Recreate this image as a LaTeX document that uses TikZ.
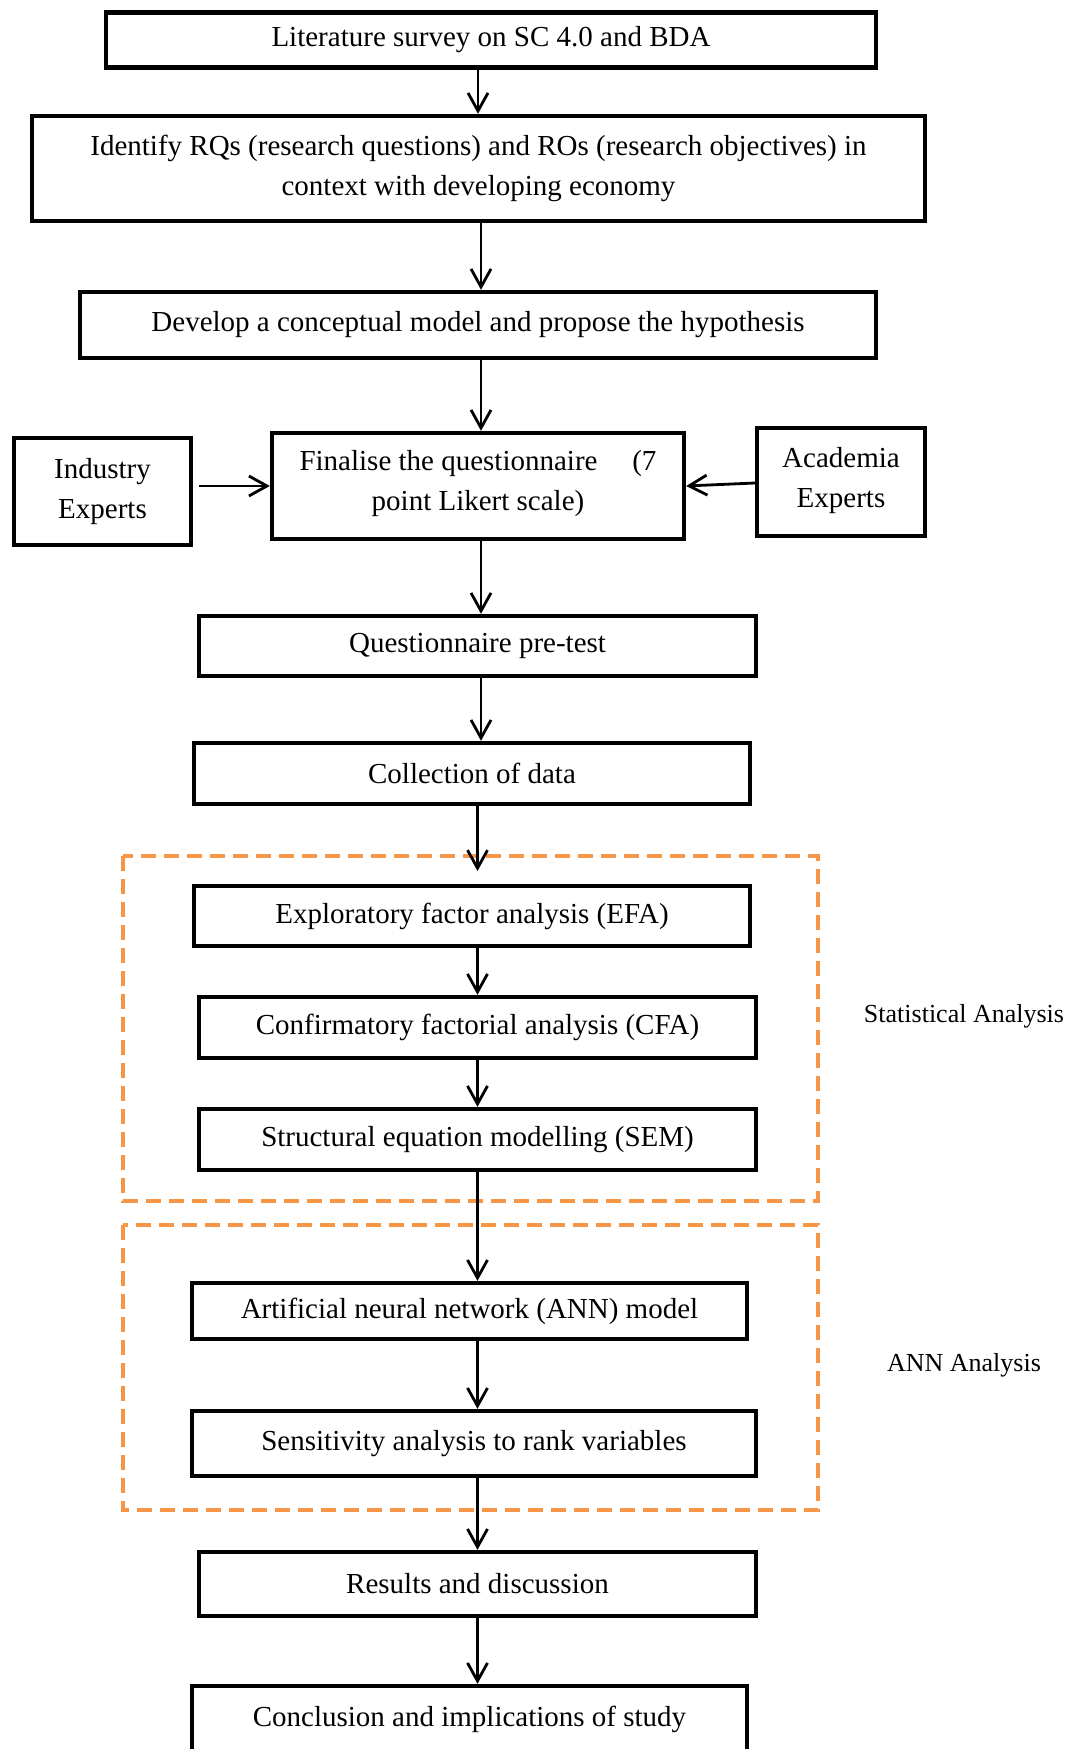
\documentclass[tikz,border=0pt]{standalone}
\usepackage{fontspec}
\setmainfont{Liberation Serif}
\usetikzlibrary{arrows.meta}
\definecolor{orng}{HTML}{F79646}
\begin{document}
\begin{tikzpicture}[x=0.5pt,y=-0.5pt,
  box/.style={draw=black, line width=2.2pt, rectangle, inner sep=0pt, align=center,
    font=\fontsize{14.5}{20}\selectfont},
  arr/.style={line width=1.4pt, -{Straight Barb[length=9pt,width=10pt,line width=1.4pt]}},
  grp/.style={draw=orng, line width=1.7pt, dash pattern=on 7.5pt off 4pt},
  lbl/.style={font=\fontsize{13}{16}\selectfont, inner sep=0pt}]
\clip (0,0) rectangle (1079,1749);
\fill[white] (0,0) rectangle (1079,1749);
% groups
\draw[grp] (123,856) rectangle (818,1201);
\draw[grp] (123,1225) rectangle (818,1510);
% nodes (sizes in pt = half the pixel size)
\node[box, minimum width=385pt, minimum height=27.5pt] (b1) at (491,40) {Literature survey on SC 4.0 and BDA};
\node[box, minimum width=446.5pt, minimum height=52.5pt] (b2) at (478.5,168.5) {Identify RQs (research questions) and ROs (research objectives) in\\context with developing economy};
\node[box, minimum width=398pt, minimum height=33pt] (b3) at (478,325) {Develop a conceptual model and propose the hypothesis};
\node[box, minimum width=88.5pt, minimum height=53.5pt] (ind) at (102.5,491.5) {Industry\\Experts\\[-17pt]};
\node[box, minimum width=206pt, minimum height=53pt] (fin) at (478,486) {Finalise the questionnaire\hspace{1.2em}(7\\point Likert scale)\\[-14pt]};
\node[box, minimum width=84pt, minimum height=54pt] (aca) at (841,482) {Academia\\Experts\\[-15.5pt]};
\node[box, minimum width=278.5pt, minimum height=30pt] (pre) at (477.5,646) {Questionnaire pre-test};
\node[box, minimum width=278pt, minimum height=30.5pt] (col) at (472,773.5) {Collection of data};
\node[box, minimum width=278pt, minimum height=30pt] (efa) at (472,916) {Exploratory factor analysis (EFA)};
\node[box, minimum width=278.5pt, minimum height=30.5pt] (cfa) at (477.5,1027.5) {Confirmatory factorial analysis (CFA)};
\node[box, minimum width=278.5pt, minimum height=30.5pt] (sem) at (477.5,1139.5) {Structural equation modelling (SEM)};
\node[box, minimum width=277.5pt, minimum height=28pt] (ann) at (469.5,1311) {Artificial neural network (ANN) model};
\node[box, minimum width=282pt, minimum height=32.5pt] (sen) at (474,1443.5) {Sensitivity analysis to rank variables};
\node[box, minimum width=278.5pt, minimum height=32pt] (res) at (477.5,1584) {Results and discussion};
\node[box, minimum width=277.5pt, minimum height=35pt] (con) at (469.5,1721) {Conclusion and implications of study\\[-15.5pt]};
% labels
\node[lbl] (lstat) at (964,1016) {Statistical Analysis};
\node[lbl] (lann) at (964,1365) {ANN Analysis};
% arrow columns
\coordinate (ax1) at (478,0);
\coordinate (ax2) at (481,0);
\coordinate (ax3) at (477.5,0);
\coordinate (efatip) at (477.5,871);
\coordinate (indstart) at (199,486);
\coordinate (acastart) at (755,483);
% connectors
\draw[arr] (b1.south -| ax1) -- (b2.north -| ax1);
\draw[arr] (b2.south -| ax2) -- (b3.north -| ax2);
\draw[arr] (b3.south -| ax2) -- (fin.north -| ax2);
\draw[arr] (fin.south -| ax2) -- (pre.north -| ax2);
\draw[arr] (pre.south -| ax2) -- (col.north -| ax2);
\draw[arr] (col.south -| ax3) -- (efatip);
\draw[arr] (efa.south -| ax3) -- (cfa.north -| ax3);
\draw[arr] (cfa.south -| ax3) -- (sem.north -| ax3);
\draw[arr] (sem.south -| ax3) -- (ann.north -| ax3);
\draw[arr] (ann.south -| ax3) -- (sen.north -| ax3);
\draw[arr] (sen.south -| ax3) -- (res.north -| ax3);
\draw[arr] (res.south -| ax3) -- (con.north -| ax3);
\draw[arr] (indstart) -- (fin.west |- indstart);
\draw[arr] (acastart) -- (fin.east |- 0,486);
\end{tikzpicture}
\end{document}
